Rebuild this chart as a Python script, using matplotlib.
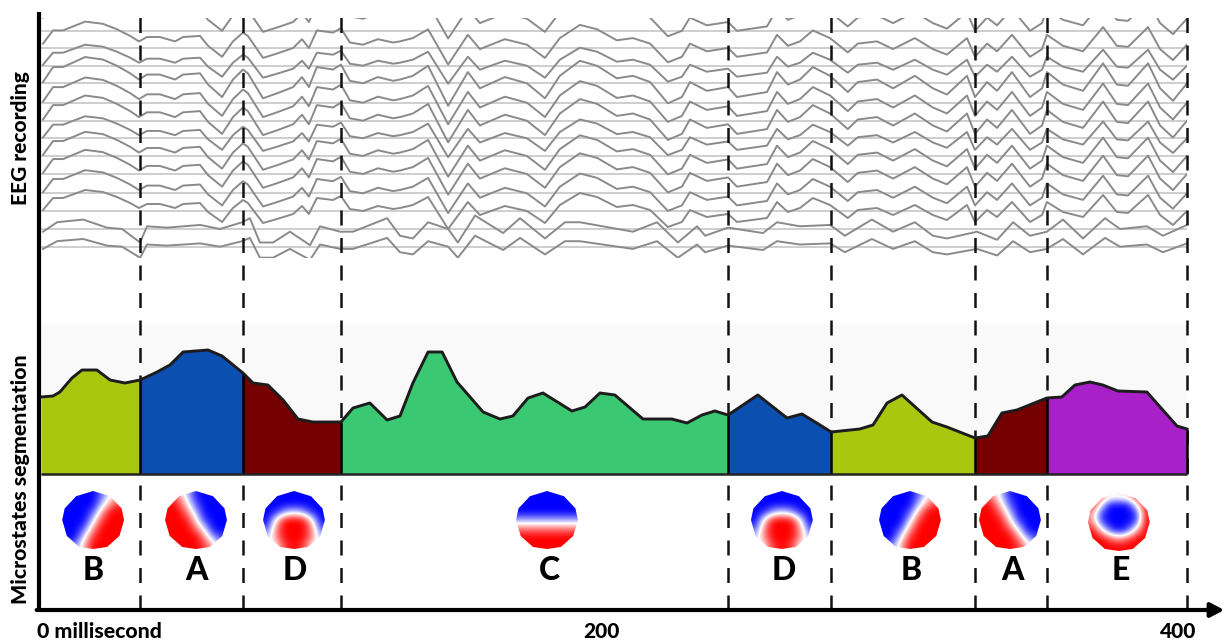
import numpy as np
import matplotlib
matplotlib.use("Agg")
import matplotlib.pyplot as plt
from matplotlib.patches import Polygon, Rectangle

plt.rcParams['font.family'] = ['Lato', 'DejaVu Sans']

# global field power curve
gfp_time = [0, 4.2, 6.6, 10.8, 14.3, 19.5, 24.1, 29.3, 34.6, 40.5, 45.0, 49.6, 58.3, 63.2, 70.5, 74.0, 79.2, 84.5,
            89.7, 94.9, 104.7, 108.9, 114.8, 120.8, 125.3, 129.8, 135.1, 140.0, 145.2, 154.3, 160.2, 164.7, 170.0,
            175.2, 185.3, 189.9, 195.1, 200.3, 210.1, 220.2, 225.5, 230.7, 235.2, 239.8, 250.2, 260.4, 265.6, 271.9,
            275.8, 285.8, 290.4, 295.3, 300.5, 311.0, 316.2, 326.0, 330.5, 335.4, 340.6, 351.1, 356.3, 360.9, 366.1,
            370.6, 375.9, 386.0, 396.5, 400]
gfp_value = [77, 78, 82, 96, 104, 104, 94, 91, 94, 102, 109, 122, 124, 118, 101, 91, 89, 74,
             55, 52, 52, 66, 71, 54, 58, 91, 122, 122, 92, 62, 55, 58, 76,
             81, 63, 67, 81, 79, 55, 55, 51, 59, 63, 59, 79, 56, 60, 49,
             42, 45, 49, 71, 79, 52, 47, 36, 38, 61, 64, 76, 77, 89, 92,
             89, 83, 82, 48, 45]

# microstate segments
seg_edges = [0, 34.6, 70.5, 104.7, 239.8, 275.8, 326.0, 351.1, 400]
seg_names = ['B', 'A', 'D', 'C', 'D', 'B', 'A', 'E']
seg_colors = ['#a8c70e', '#0b4fb0', '#750000', '#3ac873', '#0b4fb0', '#a8c70e', '#750000', '#a820c8']
map_time = [18.2, 54.1, 88.3, 176.6, 258.6, 303.3, 338.2, 376.2]
label_time = [18.2, 54.4, 88.7, 177.3, 259.3, 303.7, 339.2, 377.0]

# eeg traces, deflection from each channel's line
eeg_time = [0.7, 4.2, 7.7, 15.4, 21.6, 26.5, 31.1, 34.2, 37.0, 41.5, 46.8, 49.6, 55.5, 58.3, 63.2, 67.0, 70.5, 72.2,
            77.5, 82.4, 88.0, 91.1, 93.5, 96.3, 101.9, 104.7, 107.8, 112.4, 117.6, 122.9,
            125.3, 129.8, 135.1, 142.1, 149.0, 153.2, 161.9, 169.6, 175.9, 181.1, 188.1, 194.1, 201.0, 206.6, 212.6,
            218.8, 223.7, 226.5, 232.4, 239.8, 242.9, 253.4, 256.9, 260.7,
            264.9, 269.4, 275.4, 281.6, 285.1, 291.8, 297.4, 305.0, 311.3, 316.2, 323.2, 326.0, 330.2, 333.7, 338.9,
            345.2, 349.4, 351.1, 356.7, 363.7, 370.7, 375.5, 379.4, 386.4, 390.6, 395.1, 400]
eeg_upper = [1, 13, 13, 21, 19, 14, 8, 3, 7, 7, 3, 7, 8, -1, -11, 3, 11, 8,
             -12, -8, -3, 5, -3, 13, 11, 15, 2, 0, 5, 2,
             3, 6, 14, -18, 9, -4, 5, 0, -12, 6, 18, 14, 4, 6, 1,
             -16, -11, 1, -6, -3, -11, -7, 9, -1,
             3, 13, 6, -7, 1, 3, -4, 6, -4, -9, 6, -11, 1, -6, 9,
             -11, -4, 9, -1, -6, 16, -1, -2, 16, -4, -14, 0]
eeg_time_low = [0.7, 5.6, 14.7, 23.0, 28.3, 34.6, 37.0, 44.0, 55.5, 62.5, 70.2, 72.9, 76.4, 81.0, 86.9, 93.9, 97.4,
                104.4, 108.9, 120.8,
                125.3, 129.8, 135.1, 142.1, 145.5, 151.5, 161.3, 167.2, 175.9, 182.9, 188.1, 206.6, 215.0, 222.3,
                229.0, 231.8, 239.8, 252.0, 256.9,
                264.9, 275.4, 280.6, 290.0, 297.4, 305.0, 311.3, 316.2, 326.7, 333.7, 339.3, 345.2, 351.1, 356.7,
                363.7, 371.4, 376.6, 386.0, 391.6, 400]
eeg_lower = [-2, 5, 7, 1, 0, -10, 2, 1, 3, 0, 5, 8, -10, -10, -2, -12, 2, -2, -2, 8,
             -5, -7, 5, 0, -10, 10, -3, 8, -7, 5, 5, -2, 5, -10, 2, -5, 1, -3, 5,
             2, 3, -5, 7, -2, 5, -5, -7, -2, -8, 5, -5, -2, 7, -7, 8, 0, 2, -5, 3]
channel_line = [443.3, 426.3, 408.3, 390.7, 371.3, 353.3, 335.7, 318, 300, 280.7, 263, 245, 227.3]
channel_shift = [12, 3, 0, 0, 0, 0, 0, 0, 0, 0, 0, 0, 0]
channel_gain = [1.1, 1.1, 1.0, 1.25, 1.2, 1.2, 1.05, 1.15, 1.15, 1.1, 1.0, 1.35, 1.1]
channel_kind = ['u', 'u', 'u', 'u', 'u', 'u', 'u', 'u', 'u', 'u', 'u', 'l', 'l']

# scalp maps, -1 blue to 1 red, top row first
map_a = [[.7, .4, -.2, -.9, -1, -1, -1],
         [1, .8, .1, -.7, -1, -1, -1],
         [1, 1, .5, -.3, -1, -1, -1],
         [1, 1, .9, .1, -.8, -1, -1],
         [1, 1, 1, .6, -.2, -1, -1],
         [1, 1, 1, 1, .4, -.5, -.8],
         [1, 1, 1, 1, .8, .2, -.3]]
map_b = [[-1, -1, -1, -1, -.6, 0, .3],
         [-1, -1, -1, -1, -.3, .4, .8],
         [-1, -1, -1, -.7, .3, 1, 1],
         [-1, -1, -1, -.2, .8, 1, 1],
         [-1, -1, -.7, .4, 1, 1, 1],
         [-1, -1, -.1, .8, 1, 1, 1],
         [-.8, -.5, .3, 1, 1, 1, 1]]
map_c = [[-1] * 7, [-1] * 7, [-1] * 7, [-.35] * 7, [.5] * 7, [1] * 7, [1] * 7]
map_d = [[-1, -1, -1, -1, -1, -1, -1],
         [-1, -1, -1, -1, -1, -1, -1],
         [-1, -.9, -.4, -.2, -.4, -.9, -1],
         [-1, .1, 1, 1, 1, .1, -1],
         [-.7, .5, 1, 1, 1, .5, -.7],
         [-.3, .5, 1, 1, 1, .5, -.3],
         [-.2, .1, .8, 1, .8, .1, -.2]]
map_e = [[1, .6, .1, .1, .2, .8, 1],
         [.9, -.1, -1, -1, -1, -.1, 1],
         [.4, -.8, -1, -1, -1, -.8, .9],
         [.5, -.7, -1, -1, -1, -.7, 1],
         [1, .2, -.7, -1, -.7, .3, 1],
         [1, 1, .7, .4, .7, 1, 1],
         [1, 1, 1, 1, 1, 1, 1]]
maps = {'A': map_a, 'B': map_b, 'C': map_c, 'D': map_d, 'E': map_e}
head_x = [0, .55, .92, 1, .85, .45, 0, -.45, -.85, -1, -.92, -.55]
head_y = [1, .82, .4, 0, -.55, -.93, -1, -.93, -.55, 0, .4, .82]

fig = plt.figure(figsize=(12.25, 6.41), dpi=100)
ax = fig.add_axes([0, 0, 1, 1])
ax.axis('off')

# background band
ax.add_patch(Rectangle((0, 0), 400, 150, facecolor='#f9f9f9', edgecolor='none', zorder=0))

# eeg lines and traces
ax.hlines(channel_line, 0, 400, color='#c6c6c6', lw=1.2, zorder=1)
clip = Rectangle((0, 216), 400, 240, transform=ax.transData)
for line_y, shift, gain, kind in zip(channel_line, channel_shift, channel_gain, channel_kind):
    if kind == 'u':
        t, d = eeg_time, eeg_upper
    else:
        t, d = eeg_time_low, eeg_lower
    tr, = ax.plot(t, line_y + shift + gain * np.array(d), color='#8a8a8a', lw=1.4, zorder=2,
                  solid_joinstyle='round')
    tr.set_clip_path(clip)

# dashed segment lines
ax.vlines(seg_edges[1:], -136, 462, color='#111111', lw=1.8, linestyles=(0, (6, 5)), zorder=3)

# filled segments
times = np.array(gfp_time)
vals = np.array(gfp_value)
for i in range(len(seg_names)):
    m = (times >= seg_edges[i]) & (times <= seg_edges[i + 1])
    ax.fill_between(times[m], 0, vals[m], color=seg_colors[i], lw=0, zorder=4)
    ax.vlines(seg_edges[i + 1], 0, vals[m][-1], color='black', lw=1.8, zorder=5)
ax.plot(times, vals, color='#1c1c1c', lw=2.1, zorder=6, solid_joinstyle='round')
ax.hlines(0, 0, 400, color='#222222', lw=1.8, zorder=6)

# scalp maps and letters
for name, mt, lt in zip(seg_names, map_time, label_time):
    half_w = 10.8
    half_h = 29
    if name == 'E':
        cy = -48
    else:
        cy = -46
    im = ax.imshow(maps[name], cmap='bwr', vmin=-1, vmax=1, interpolation='bicubic', aspect='auto',
                   extent=(mt - half_w, mt + half_w, cy - half_h, cy + half_h), zorder=3)
    outline = Polygon(np.column_stack([mt + half_w * np.array(head_x), cy + half_h * np.array(head_y)]),
                      transform=ax.transData, facecolor='none', edgecolor='none')
    ax.add_patch(outline)
    im.set_clip_path(outline)
    ax.text(lt, -96, name, fontsize=23, fontweight='black', ha='center', va='center', color='black', zorder=7)

ax.set_xlim(-14.31, 413.26)
ax.set_ylim(-167, 474)

# axes drawn as arrows
ax.plot([-0.7, -0.7], [-138, 462], color='black', lw=3, solid_capstyle='butt', zorder=8)
ax.annotate('', xy=(413, -136), xytext=(-1.5, -136),
            arrowprops=dict(arrowstyle='-|>,head_length=0.8,head_width=0.42', color='black', lw=3,
                            shrinkA=0, shrinkB=0), zorder=8)

# labels
ax.text(-7, 336, 'EEG recording', rotation=90, fontsize=15, fontweight='black', ha='center', va='center')
ax.text(-7, -5, 'Microstates segmentation', rotation=90, fontsize=15.3, fontweight='black', ha='center', va='center')
ax.text(-1.4, -157, '0 millisecond', fontsize=15.3, fontweight='black', ha='left', va='center')
ax.text(195.5, -157, '200', fontsize=15, fontweight='black', ha='center', va='center')
ax.text(397, -157, '400', fontsize=15, fontweight='black', ha='center', va='center')

plt.savefig('out.png', dpi=100)
